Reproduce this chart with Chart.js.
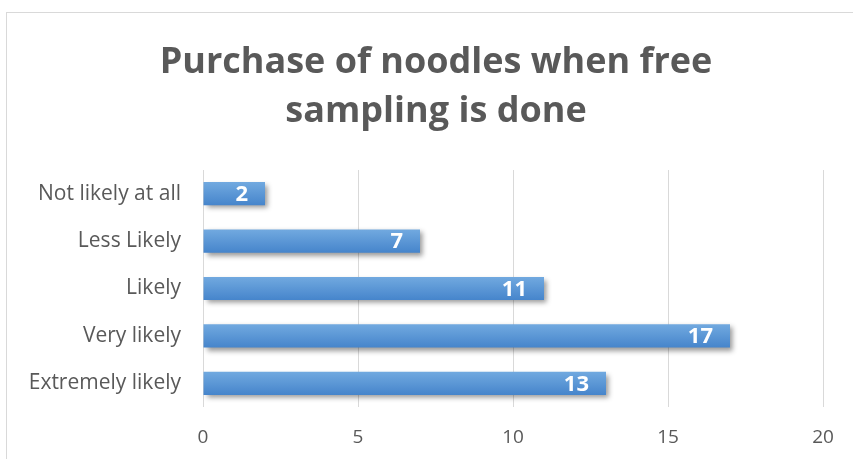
<!DOCTYPE html>
<html>
<head>
<meta charset="utf-8">
<script src="https://cdn.jsdelivr.net/npm/chart.js@4/dist/chart.umd.min.js"></script>
<style>
  body { margin: 0; background: #fff; overflow: hidden; }
  #wrap { position: relative; width: 853px; height: 459px; }
  #frame { position: absolute; left: 6px; top: 12px; width: 900px; height: 500px; border: 1px solid #d9d9d9; }
  #grafico { position: absolute; left: 0; top: 0; }
</style>
</head>
<body>
<div id="wrap">
  <div id="frame"></div>
  <canvas id="grafico" width="853" height="459"></canvas>
</div>
<script>
const titulo = ["Purchase of noodles when free", "sampling is done"];
const categorias = ["Not likely at all", "Less Likely", "Likely", "Very likely", "Extremely likely"];
const respostas = [2, 7, 11, 17, 13];
const ticksX = [0, 5, 10, 15, 20];

const cinza = "#595959";
const fonte = "'Open Sans', sans-serif";

// gradiente vertical em cada barra, calculado a partir da escala de categorias
const corBarra = (c) => {
  const chart = c.chart;
  const y = chart.scales && chart.scales.y;
  if (!y || !chart.chartArea) return "#5b9bd5";
  const cy = y.getPixelForValue(c.dataIndex);
  const g = chart.ctx.createLinearGradient(0, cy - 12, 0, cy + 12);
  g.addColorStop(0, "#72aae0");
  g.addColorStop(1, "#4584cb");
  return g;
};

// sombra por baixo das barras
const sombra = {
  id: "sombra",
  beforeDatasetsDraw(chart) {
    const ctx = chart.ctx;
    ctx.save();
    ctx.shadowColor = "rgba(0,0,0,0.4)";
    ctx.shadowBlur = 5;
    ctx.shadowOffsetX = 3;
    ctx.shadowOffsetY = 3;
  },
  afterDatasetsDraw(chart) {
    chart.ctx.restore();
  }
};

// valores escritos dentro do fim de cada barra
const rotulos = {
  id: "rotulos",
  afterDatasetsDraw(chart) {
    const ctx = chart.ctx;
    const meta = chart.getDatasetMeta(0);
    ctx.save();
    ctx.fillStyle = "#ffffff";
    ctx.font = "bold 22px " + fonte;
    ctx.textAlign = "right";
    ctx.textBaseline = "middle";
    meta.data.forEach((bar, i) => {
      ctx.fillText(String(respostas[i]), bar.x - 17, bar.y + 1);
    });
    ctx.restore();
  }
};

// título centrado na caixa inteira (não só na área do gráfico)
const cabecalho = {
  id: "cabecalho",
  afterDraw(chart) {
    const ctx = chart.ctx;
    ctx.save();
    ctx.fillStyle = cinza;
    ctx.font = "bold 36px " + fonte;
    ctx.textAlign = "center";
    ctx.textBaseline = "middle";
    titulo.forEach((linha, i) => ctx.fillText(linha, 436, 63 + i * 49));
    ctx.restore();
  }
};

new Chart(document.getElementById("grafico").getContext("2d"), {
  type: "bar",
  data: {
    labels: categorias,
    datasets: [{
      data: respostas,
      backgroundColor: corBarra,
      borderWidth: 0,
      barPercentage: 0.49,
      categoryPercentage: 1
    }]
  },
  options: {
    indexAxis: "y",
    responsive: false,
    animation: false,
    layout: { padding: { left: 0, right: 30, top: 170, bottom: 0 } },
    scales: {
      x: {
        min: 0,
        max: 20,
        afterBuildTicks: (s) => { s.ticks = ticksX.map((v) => ({ value: v })); },
        afterFit: (s) => { s.height = 52; },
        border: { display: false },
        grid: { color: "#d9d9d9", lineWidth: 1, drawTicks: false },
        ticks: { color: cinza, padding: 19, font: { family: fonte, size: 19 } }
      },
      y: {
        afterFit: (s) => { s.width = 203; },
        border: { display: false },
        grid: { display: false, drawTicks: false },
        ticks: { color: cinza, padding: 22, font: { family: fonte, size: 21 } }
      }
    },
    plugins: {
      legend: { display: false },
      tooltip: { enabled: false },
      title: { display: false }
    }
  },
  plugins: [sombra, rotulos, cabecalho]
});
</script>
</body>
</html>
